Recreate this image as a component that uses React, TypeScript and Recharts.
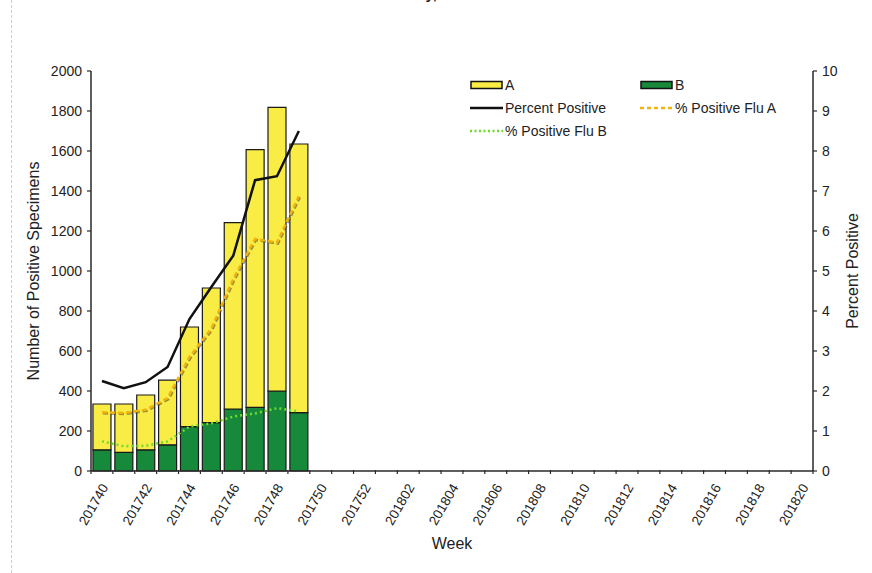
import React from 'react';
import { ComposedChart, Bar, Line, XAxis, YAxis, Legend } from 'recharts';

const weeks = [
  '201740', '201741', '201742', '201743', '201744', '201745', '201746', '201747', '201748', '201749',
  '201750', '201751', '201752', '201801', '201802', '201803', '201804', '201805', '201806', '201807',
  '201808', '201809', '201810', '201811', '201812', '201813', '201814', '201815', '201816', '201817',
  '201818', '201819', '201820',
];

// positive specimens by type (stacked)
const fluA = [229, 242, 274, 323, 498, 673, 932, 1289, 1418, 1343];
const fluB = [106, 93, 106, 131, 222, 242, 310, 318, 400, 292];

// percent positive (right axis)
const pctPositive = [2.25, 2.07, 2.22, 2.6, 3.8, 4.6, 5.38, 7.27, 7.37, 8.5];
const pctFluA = [1.47, 1.45, 1.53, 1.82, 2.85, 3.56, 4.8, 5.8, 5.71, 6.87];
const pctFluB = [0.74, 0.62, 0.63, 0.74, 1.11, 1.19, 1.36, 1.44, 1.57, 1.49];

const countTicks = [0, 200, 400, 600, 800, 1000, 1200, 1400, 1600, 1800, 2000];
const pctTicks = [0, 1, 2, 3, 4, 5, 6, 7, 8, 9, 10];

const W = 872;
const H = 573;
const MARGIN = { top: 71, right: 10, bottom: 15, left: 19 };
const LEFT_W = 72;
const RIGHT_W = 49;
const X_AXIS_H = 87;
const PLOT_W = W - MARGIN.left - MARGIN.right - LEFT_W - RIGHT_W;
const PLOT_H = H - MARGIN.top - MARGIN.bottom - X_AXIS_H;
const STEP = PLOT_W / weeks.length;

const FONT = '"Liberation Sans", Arial, Helvetica, sans-serif';
const YELLOW = '#F8EC45';
const GREEN = '#17893A';
const ORANGE = '#F2B40C';
const LIGHT_GREEN = '#6FDB2B';
const AXIS = '#2a2a2a';

const data = weeks.map((week, i) => ({
  week,
  A: fluA[i] ?? null,
  B: fluB[i] ?? null,
  pct: pctPositive[i] ?? null,
  pctA: pctFluA[i] ?? null,
  pctB: pctFluB[i] ?? null,
}));

const legendItems = [
  { label: 'A', kind: 'box', color: YELLOW },
  { label: 'B', kind: 'box', color: GREEN },
  { label: 'Percent Positive', kind: 'line', color: '#111', dash: undefined },
  { label: '% Positive Flu A', kind: 'line', color: ORANGE, dash: '4 3' },
  { label: '% Positive Flu B', kind: 'line', color: LIGHT_GREEN, dash: '2 2.5' },
];

const WeekTick = (props: any) => {
  const { x, y, payload, index } = props;
  const left = x - STEP / 2;
  const isLast = index === weeks.length - 1;
  return (
    <g>
      <line x1={left} x2={left} y1={y - 1} y2={y + 3} stroke={AXIS} strokeWidth={1.2} />
      {isLast && <line x1={x + STEP / 2} x2={x + STEP / 2} y1={y - 1} y2={y + 3} stroke={AXIS} strokeWidth={1.2} />}
      {index % 2 === 0 && (
        <text
          x={x + 3}
          y={y + 14}
          transform={`rotate(-60 ${x + 3} ${y + 14})`}
          textAnchor="end"
          dominantBaseline="central"
          fontSize={13.5}
          fontFamily={FONT}
          fill="#222"
        >
          {payload.value}
        </text>
      )}
    </g>
  );
};

const renderLegend = () => (
  <div
    style={{
      display: 'grid',
      gridTemplateColumns: '170px 170px',
      rowGap: 6,
      fontFamily: FONT,
      fontSize: 14,
      color: '#222',
    }}
  >
    {legendItems.map((item) => (
      <div key={item.label} style={{ display: 'flex', alignItems: 'center', height: 17 }}>
        <svg width={33} height={10} style={{ marginRight: 2 }}>
          {item.kind === 'box' ? (
            <rect x={1} y={1.5} width={31} height={7} fill={item.color} stroke="#111" strokeWidth={1.5} />
          ) : (
            <line x1={0} x2={33} y1={5} y2={5} stroke={item.color} strokeWidth={2.5} strokeDasharray={item.dash} />
          )}
        </svg>
        <span>{item.label}</span>
      </div>
    ))}
  </div>
);

const App = () => {
  const plotMidY = MARGIN.top + PLOT_H / 2;
  return (
    <div style={{ position: 'absolute', left: 0, top: 0, width: W, height: H, background: '#fff' }}>
      <div style={{ position: 'absolute', left: 11, top: 0, height: H, borderLeft: '1px dashed #d8c8d4' }} />
      {/* title above the crop: only the descenders show */}
      <svg width={W} height={12} style={{ position: 'absolute', left: 0, top: 0 }}>
        <text x={437} y={-1.5} textAnchor="end" fontSize={15} fontWeight="bold" fontFamily={FONT} fill="#222">
          National Summary,
        </text>
      </svg>
      <ComposedChart
        width={W}
        height={H}
        data={data}
        margin={MARGIN}
        barCategoryGap="9%"
        style={{ fontFamily: FONT }}
      >
        <XAxis
          dataKey="week"
          xAxisId="week"
          height={X_AXIS_H}
          interval={0}
          tickSize={0}
          tickMargin={0}
          tickLine={false}
          axisLine={{ stroke: AXIS, strokeWidth: 1.5 }}
          tick={<WeekTick />}
          label={{
            content: () => (
              <text x={MARGIN.left + LEFT_W + PLOT_W / 2} y={543} textAnchor="middle" dominantBaseline="central" fontSize={16} fontFamily={FONT} fill="#222">
                Week
              </text>
            ),
          }}
        />
        <YAxis
          yAxisId="count"
          width={LEFT_W}
          domain={[0, 2000]}
          ticks={countTicks}
          interval={0}
          tickSize={4}
          tickMargin={5}
          axisLine={{ stroke: AXIS, strokeWidth: 1.5 }}
          tickLine={{ stroke: AXIS, strokeWidth: 1.2 }}
          tick={{ fontSize: 14, fill: '#222', fontFamily: FONT }}
          label={{
            content: () => (
              <text x={33} y={plotMidY} transform={`rotate(-90 33 ${plotMidY})`} textAnchor="middle" dominantBaseline="central" fontSize={16} fontFamily={FONT} fill="#222">
                Number of Positive Specimens
              </text>
            ),
          }}
        />
        <YAxis
          yAxisId="pct"
          orientation="right"
          width={RIGHT_W}
          domain={[0, 10]}
          ticks={pctTicks}
          interval={0}
          tickSize={4}
          tickMargin={5}
          axisLine={{ stroke: AXIS, strokeWidth: 1.5 }}
          tickLine={{ stroke: AXIS, strokeWidth: 1.2 }}
          tick={{ fontSize: 14, fill: '#222', fontFamily: FONT }}
          label={{
            content: () => (
              <text x={852} y={plotMidY} transform={`rotate(-90 852 ${plotMidY})`} textAnchor="middle" dominantBaseline="central" fontSize={16} fontFamily={FONT} fill="#222">
                Percent Positive
              </text>
            ),
          }}
        />
        <Legend
          layout="horizontal"
          verticalAlign="middle"
          align="center"
          content={renderLegend}
          wrapperStyle={{ position: 'absolute', top: 76, left: 470, width: 350 }}
        />
        <Bar
          dataKey="B"
          name="B"
          xAxisId="week"
          yAxisId="count"
          stackId="flu"
          fill={GREEN}
          stroke="#1a1a1a"
          strokeWidth={1.2}
          isAnimationActive={false}
        />
        <Bar
          dataKey="A"
          name="A"
          xAxisId="week"
          yAxisId="count"
          stackId="flu"
          fill={YELLOW}
          stroke="#1a1a1a"
          strokeWidth={1.2}
          isAnimationActive={false}
        />
        <Line
          dataKey="pct"
          name="Percent Positive"
          xAxisId="week"
          yAxisId="pct"
          type="linear"
          stroke="#111"
          strokeWidth={2.5}
          dot={false}
          isAnimationActive={false}
        />
        <Line
          dataKey="pctA"
          name="% Positive Flu A"
          xAxisId="week"
          yAxisId="pct"
          type="linear"
          stroke={ORANGE}
          strokeWidth={2.5}
          strokeDasharray="5 3"
          dot={false}
          style={{ filter: 'drop-shadow(1px 1px 0.5px rgba(60,60,60,0.55))' }}
          isAnimationActive={false}
        />
        <Line
          dataKey="pctB"
          name="% Positive Flu B"
          xAxisId="week"
          yAxisId="pct"
          type="linear"
          stroke={LIGHT_GREEN}
          strokeWidth={2.5}
          strokeDasharray="2 3"
          dot={false}
          isAnimationActive={false}
        />
      </ComposedChart>
    </div>
  );
};

export default App;
